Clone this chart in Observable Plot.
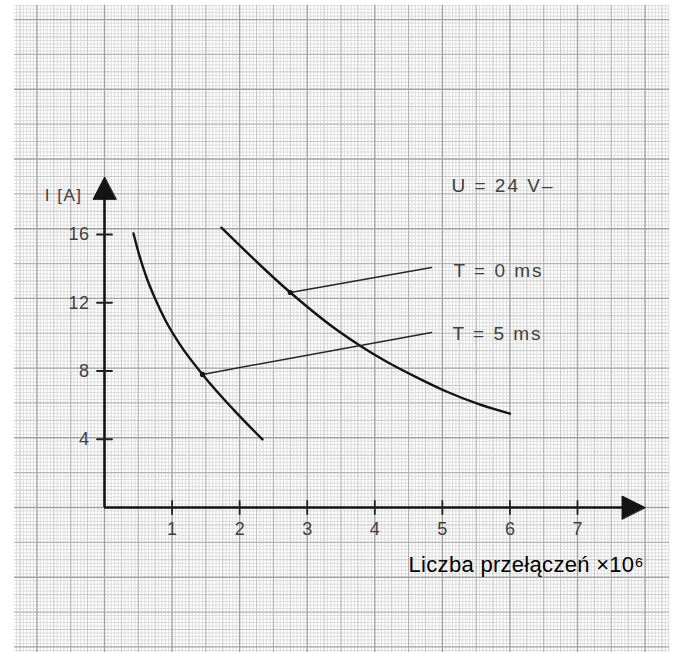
<!DOCTYPE html>
<html><head><meta charset="utf-8">
<script src="https://cdn.jsdelivr.net/npm/d3@7"></script>
<script src="https://cdn.jsdelivr.net/npm/@observablehq/plot@0.6"></script>
<style>
html,body{margin:0;padding:0;background:#fff;}
#chart svg{display:block;}
</style>
</head><body><div id="chart"></div>
<script>
// ---- data ----
const xTicks = [1, 2, 3, 4, 5, 6, 7];
const xTickLabels = ["1", "2", "3", "4", "5", "6", "7"];
const yTicks = [4, 8, 12, 16];
const yTickLabels = ["4", "8", "12", "16"];

// T = 0 ms curve (right)
const t0X = [1.73, 2.75, 3.43, 3.80, 4.17, 4.62, 5.06, 5.55, 6.00];
const t0Y = [16.4, 12.6, 10.43, 9.44, 8.56, 7.63, 6.80, 6.04, 5.50];
// T = 5 ms curve (left)
const t5X = [0.429, 0.503, 0.622, 0.755, 0.903, 1.125, 1.45, 1.909, 2.338];
const t5Y = [16.06, 14.95, 13.48, 12.19, 10.96, 9.50, 7.80, 5.74, 3.99];

// leader lines: from point on curve to label
const leaderT0X = [2.75, 4.84], leaderT0Y = [12.6, 14.07];
const leaderT5X = [1.45, 4.84], leaderT5Y = [7.8, 10.26];

const noteTexts = ["U = 24 V–", "T = 0 ms", "T = 5 ms"];
const noteX = [5.135, 5.165, 5.15];
const noteY = [18.87, 13.89, 10.2];
const yAxisTitle = "I [A]";
const yAxisTitlePos = [0, 18.29];
const xAxisTitle = "Liczba przełączeń ×10⁶";
const xAxisTitlePos = [4.5, -3.34];

// graph paper extent (in data units) and spacing
const paperX = [-1.332, 8.362];
const paperY = [-8.5, 29.43];
const paperStepX = 0.05;
const paperStepY = 0.20425;

// ---- build ----
const pts = (xs, ys) => xs.map((x, i) => ({x, y: ys[i]}));
const tierOf = k => (k % 20 === 0 ? 3 : k % 10 === 0 ? 2 : k % 5 === 0 ? 1 : 0);
const vLines = d3.range(-30, 180).map(k => ({x: k * paperStepX, t: tierOf(k)}))
  .filter(d => d.x >= paperX[0] && d.x <= paperX[1]);
const hLines = d3.range(-50, 160).map(k => ({y: k * paperStepY, t: tierOf(k)}))
  .filter(d => d.y >= paperY[0] && d.y <= paperY[1]);
const gridColor = ["#d6d6d6", "#c6c6c6", "#b4b4b4", "#a2a2a2"];
const gridWidth = [0.8, 1, 1.2, 1.4];

const gridMarks = [];
for (let t = 0; t < 4; t++) {
  gridMarks.push(Plot.ruleX(vLines.filter(d => d.t === t), {x: "x", y1: paperY[0], y2: paperY[1], stroke: gridColor[t], strokeWidth: gridWidth[t]}));
  gridMarks.push(Plot.ruleY(hLines.filter(d => d.t === t), {y: "y", x1: paperX[0], x2: paperX[1], stroke: gridColor[t], strokeWidth: gridWidth[t]}));
}

const tri = {draw(ctx, l) { ctx.moveTo(0, -l); ctx.lineTo(-11.5, 0); ctx.lineTo(11.5, 0); ctx.closePath(); }};
const tickLine = {draw(ctx, l) { ctx.moveTo(0, 0); ctx.lineTo(0, -l); }};
const ink = "#141414";
const grayText = "#404040";

const chart = Plot.plot({
  width: 676,
  height: 652,
  marginLeft: 104,
  marginRight: 99,
  marginTop: 234,
  marginBottom: 145,
  x: {domain: [0, 7], axis: null},
  y: {domain: [0, 16], axis: null},
  style: {fontFamily: "'Liberation Sans', Arial, sans-serif", background: "#fff"},
  marks: [
    ...gridMarks,
    // axes
    Plot.ruleY([0], {x1: 0, x2: 7.7, stroke: ink, strokeWidth: 2.6}),
    Plot.ruleX([0], {y1: 0, y2: 18.4, stroke: ink, strokeWidth: 2.6}),
    Plot.vector([{x: 8.0, y: 0}], {x: "x", y: "y", rotate: 90, length: 23, anchor: "end", shape: tri, fill: ink, stroke: ink, strokeWidth: 1}),
    Plot.vector([{x: 0, y: 19.35}], {x: "x", y: "y", rotate: 0, length: 22, anchor: "end", shape: tri, fill: ink, stroke: ink, strokeWidth: 1}),
    Plot.vector(xTicks, {x: d => d, y: 0, length: 13, anchor: "middle", shape: tickLine, stroke: "#222", strokeWidth: 1.8}),
    Plot.vector(yTicks, {x: 0, y: d => d, rotate: 90, length: 15, anchor: "middle", shape: tickLine, stroke: "#222", strokeWidth: 1.8}),
    // curves
    Plot.line(pts(t0X, t0Y), {x: "x", y: "y", curve: "monotone-x", stroke: ink, strokeWidth: 2.4}),
    Plot.line(pts(t5X, t5Y), {x: "x", y: "y", curve: "monotone-x", stroke: ink, strokeWidth: 2.4}),
    // leaders
    Plot.line(pts(leaderT0X, leaderT0Y), {x: "x", y: "y", stroke: "#262626", strokeWidth: 1.5}),
    Plot.line(pts(leaderT5X, leaderT5Y), {x: "x", y: "y", stroke: "#262626", strokeWidth: 1.5}),
    Plot.dot([{x: leaderT0X[0], y: leaderT0Y[0]}, {x: leaderT5X[0], y: leaderT5Y[0]}], {x: "x", y: "y", r: 2.6, fill: ink}),
    // texts
    Plot.text(xTicks, {x: d => d, y: 0, dy: 22, text: (d, i) => xTickLabels[i], fontSize: 18, fill: grayText}),
    Plot.text(yTicks, {x: 0, y: d => d, dx: -15, textAnchor: "end", text: (d, i) => yTickLabels[i], fontSize: 18, fill: grayText}),
    Plot.text([yAxisTitle], {x: () => yAxisTitlePos[0], y: () => yAxisTitlePos[1], dx: -22, textAnchor: "end", text: d => d, fontSize: 17, fill: grayText}),
    Plot.text(noteTexts, {x: (d, i) => noteX[i], y: (d, i) => noteY[i], textAnchor: "start", text: d => d, fontSize: 19, fill: grayText}),
    Plot.text([xAxisTitle], {x: () => xAxisTitlePos[0], y: () => xAxisTitlePos[1], textAnchor: "start", text: d => d, fontSize: 22, fill: "#000"})
  ]
});

const spacing = ["0px", "0.5px", "1.5px", "2px", "0.3px"];
chart.querySelectorAll('g[aria-label="text"]').forEach((g, i) => {
  g.style.letterSpacing = spacing[i] || "0px";
});
document.getElementById("chart").appendChild(chart);
</script>
</body></html>
